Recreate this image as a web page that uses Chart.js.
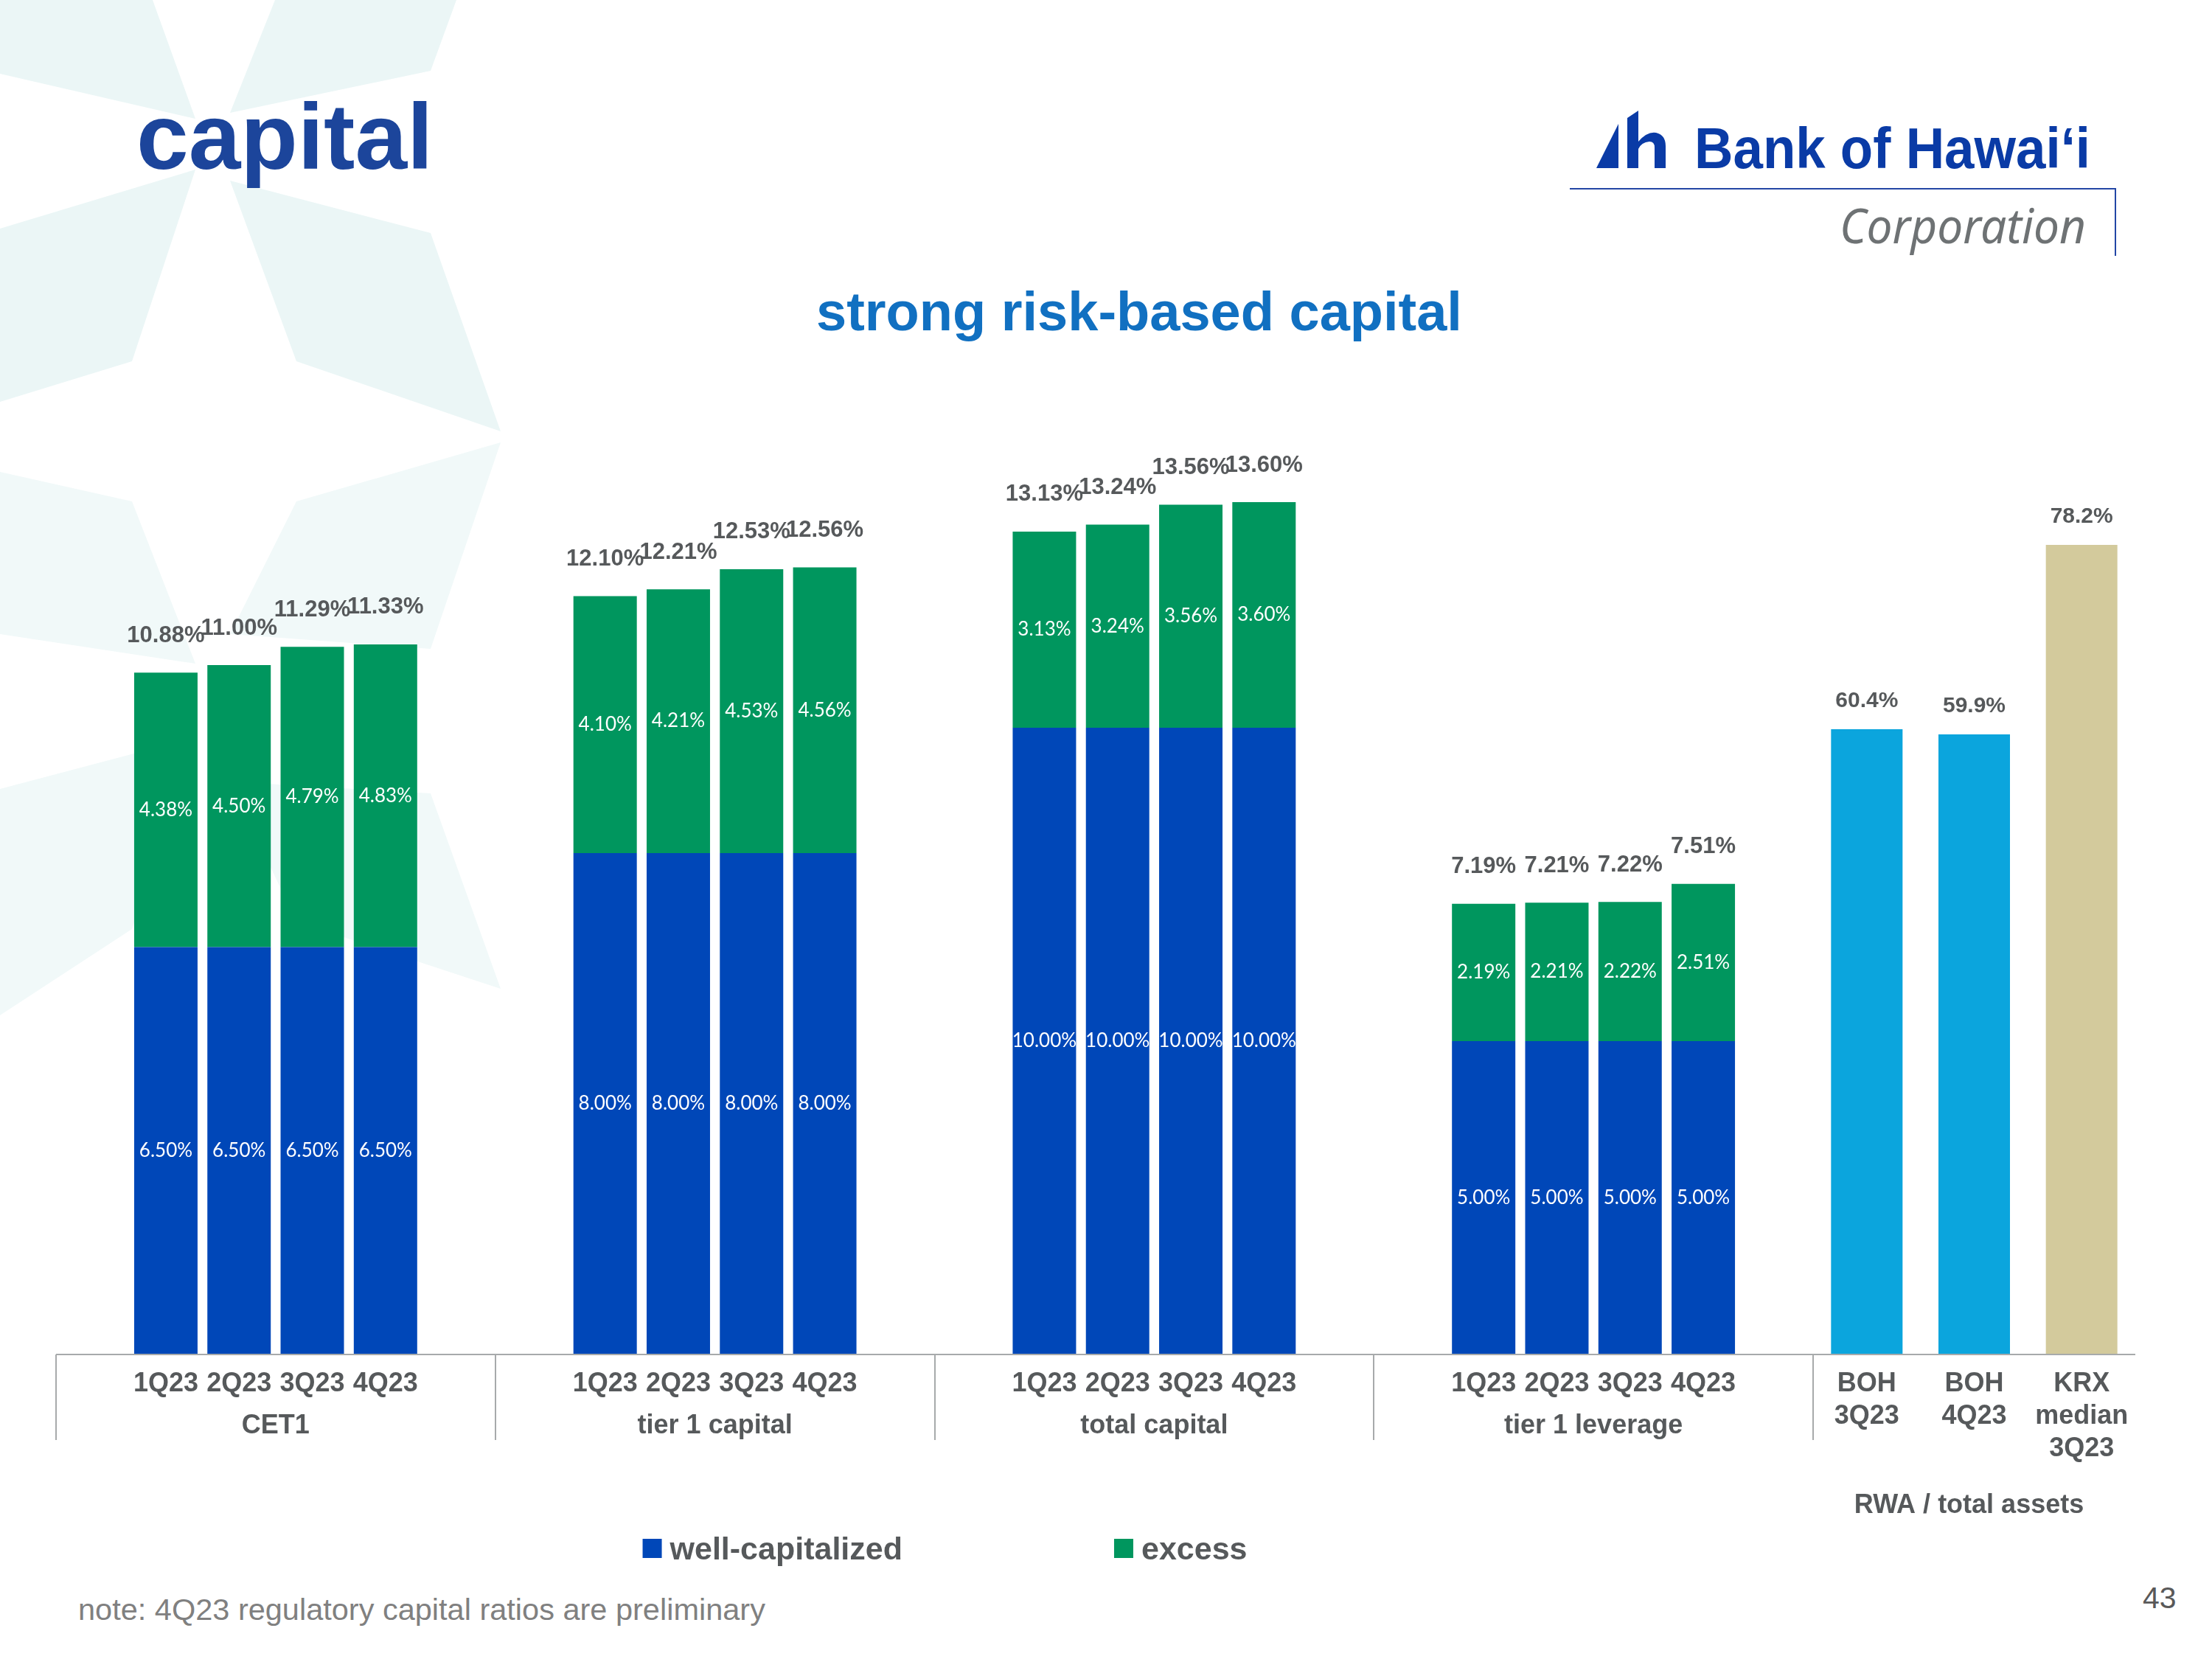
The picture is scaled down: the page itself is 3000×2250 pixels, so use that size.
<!DOCTYPE html>
<html lang="en">
<head>
<meta charset="UTF-8">
<title>capital</title>
<style>
  html, body { margin: 0; padding: 0; background: #fff; }
  body { width: 3000px; height: 2250px; position: relative; overflow: hidden; }
  #bg { position: absolute; left: 0; top: 0; }
  #capChart { position: absolute; left: 56px; top: 477px; }
  #rwaChart { position: absolute; left: 2440px; top: 433px; }
</style>
<script src="https://cdn.jsdelivr.net/npm/chart.js"></script>
</head>
<body>
<svg id="bg" width="3000" height="2250" xmlns="http://www.w3.org/2000/svg">
  <!-- faint star pattern on the left -->
  <g fill="#EBF6F6">
    <polygon points="0,0 207,0 265,161 0,100"/>
    <polygon points="373,0 619,0 584,96 312,153"/>
    <polygon points="312,245 584,316 679,585 402,490"/>
    <polygon points="0,310 265,230 179,490 0,545"/>
  </g>
  <g fill="#F1F9F9">
    <polygon points="0,640 179,680 265,900 0,860"/>
    <polygon points="402,680 679,600 584,880 312,860"/>
    <polygon points="312,1060 584,1076 679,1341 402,1250"/>
    <polygon points="0,1070 265,1000 179,1260 0,1377"/>
  </g>

  <text x="185" y="229" font-family="Liberation Sans, Arial, sans-serif" font-weight="bold" font-size="127" fill="#1C459B">capital</text>
  <text x="1107" y="448" font-family="Liberation Sans, Arial, sans-serif" font-weight="bold" font-size="74" fill="#1170C1">strong risk-based capital</text>

  <!-- logo -->
  <polygon points="2165,228 2195,168 2195,228" fill="#0A3BA6"/>
  <path d="M2207,160 L2222,150 L2222,192 Q2234,178 2246,180 Q2259,183 2259,198 L2259,228 L2244,228 L2244,200 Q2244,192 2237,192 Q2226,193 2222,202 L2222,228 L2207,228 Z" fill="#0A3BA6"/>
  <text x="2298" y="228" font-family="Liberation Sans, Arial, sans-serif" font-weight="bold" font-size="78" fill="#0A3BA6" textLength="537" lengthAdjust="spacingAndGlyphs">Bank of Hawaiʻi</text>
  <line x1="2129" y1="256" x2="2870" y2="256" stroke="#2346A5" stroke-width="2"/>
  <line x1="2869" y1="256" x2="2869" y2="347" stroke="#2346A5" stroke-width="2"/>
  <text x="2495" y="330" font-family="Noto Sans, Open Sans, sans-serif" font-style="italic" font-size="66" fill="#6E7274" textLength="334" lengthAdjust="spacingAndGlyphs">Corporation</text>

  <text x="106" y="2197" font-family="Liberation Sans, Arial, sans-serif" font-size="41.5" fill="#808080">note: 4Q23 regulatory capital ratios are preliminary</text>
  <text x="2906" y="2181" font-family="Liberation Sans, Arial, sans-serif" font-size="41" fill="#595959">43</text>
</svg>

<canvas id="capChart" width="2423" height="1663"></canvas>
<canvas id="rwaChart" width="476" height="1707"></canvas>

<script>
// ---- data ----
const quarters = ['1Q23', '2Q23', '3Q23', '4Q23'];
const groups = ['CET1', 'tier 1 capital', 'total capital', 'tier 1 leverage'];
const wellCapitalized = [
    [6.50, 6.50, 6.50, 6.50],
    [8.00, 8.00, 8.00, 8.00],
    [10.00, 10.00, 10.00, 10.00],
    [5.00, 5.00, 5.00, 5.00]
];
const excess = [
    [4.38, 4.50, 4.79, 4.83],
    [4.10, 4.21, 4.53, 4.56],
    [3.13, 3.24, 3.56, 3.60],
    [2.19, 2.21, 2.22, 2.51]
];
const rwaLabels = [['BOH', '3Q23'], ['BOH', '4Q23'], ['KRX', 'median', '3Q23']];
const rwaValues = [60.4, 59.9, 78.2];
const rwaTitle = 'RWA / total assets';

const grey = '#56595B';
const axisGrey = '#A7AAAB';
const boldFont = '"Liberation Sans", Arial, sans-serif';

// each group gets 6 slots: empty, 4 quarters, empty
function toSlots(rows) {
    const out = [];
    rows.forEach(r => { out.push(null, ...r, null); });
    return out;
}
const slotLabels = [];
groups.forEach(() => { slotLabels.push('', ...quarters, ''); });

// labels, axis, separators and legend for the capital chart
const capLabels = {
    id: 'capLabels',
    afterDatasetsDraw(chart) {
        const ctx = chart.ctx;
        const x = chart.scales.x;
        const area = chart.chartArea;
        const ds = chart.data.datasets;
        ctx.save();
        ctx.textAlign = 'center';

        // values inside the segments
        ctx.font = '26px Lato, "Open Sans", sans-serif';
        ctx.fillStyle = '#ffffff';
        ctx.textBaseline = 'middle';
        ds.forEach((d, di) => {
            chart.getDatasetMeta(di).data.forEach((bar, i) => {
                const v = d.data[i];
                if (v == null) return;
                ctx.fillText(v.toFixed(2) + '%', bar.x, (bar.y + bar.base) / 2);
            });
        });

        // totals above the stacks
        ctx.font = 'bold 31px ' + boldFont;
        ctx.fillStyle = grey;
        chart.getDatasetMeta(1).data.forEach((bar, i) => {
            if (ds[1].data[i] == null) return;
            const total = ds[0].data[i] + ds[1].data[i];
            ctx.fillText(total.toFixed(2) + '%', bar.x, bar.y - 50);
        });

        // axis line and group separators
        const slot = x.getPixelForValue(1) - x.getPixelForValue(0);
        ctx.strokeStyle = axisGrey;
        ctx.lineWidth = 2;
        ctx.beginPath();
        ctx.moveTo(area.left, area.bottom);
        ctx.lineTo(area.right, area.bottom);
        for (let g = 0; g <= groups.length; g++) {
            const px = Math.round(x.getPixelForValue(g * 6) - slot / 2);
            ctx.moveTo(px, area.bottom);
            ctx.lineTo(px, area.bottom + 116);
        }
        ctx.stroke();

        // quarter and group labels
        ctx.textBaseline = 'alphabetic';
        ctx.font = 'bold 36px ' + boldFont;
        ctx.fillStyle = grey;
        slotLabels.forEach((lab, i) => {
            if (lab) ctx.fillText(lab, x.getPixelForValue(i), area.bottom + 50);
        });
        groups.forEach((g, gi) => {
            ctx.fillText(g, x.getPixelForValue(gi * 6 + 2.5), area.bottom + 107);
        });

        // legend
        ctx.font = 'bold 43px ' + boldFont;
        const box = 26, gap = 11, spacer = 287;
        const widths = ds.map(d => box + gap + ctx.measureText(d.label).width);
        const total = widths.reduce((a, b) => a + b, 0) + spacer * (ds.length - 1);
        let lx = (area.left + area.right) / 2 + 14 - total / 2;
        ctx.textAlign = 'left';
        ds.forEach((d, di) => {
            ctx.fillStyle = d.backgroundColor;
            ctx.fillRect(lx, area.bottom + 250, box, box);
            ctx.fillStyle = grey;
            ctx.fillText(d.label, lx + box + gap, area.bottom + 278);
            lx += widths[di] + spacer;
        });
        ctx.restore();
    }
};

// labels and axis for the RWA chart
const rwaDecor = {
    id: 'rwaDecor',
    afterDatasetsDraw(chart) {
        const ctx = chart.ctx;
        const x = chart.scales.x;
        const area = chart.chartArea;
        const d = chart.data.datasets[0];
        ctx.save();
        ctx.textAlign = 'center';
        ctx.fillStyle = grey;
        ctx.textBaseline = 'middle';
        ctx.font = 'bold 30px ' + boldFont;
        chart.getDatasetMeta(0).data.forEach((bar, i) => {
            ctx.fillText(d.data[i].toFixed(1) + '%', bar.x, bar.y - 38);
        });

        ctx.strokeStyle = axisGrey;
        ctx.lineWidth = 2;
        ctx.beginPath();
        ctx.moveTo(area.left, area.bottom);
        ctx.lineTo(area.right, area.bottom);
        ctx.stroke();

        ctx.textBaseline = 'alphabetic';
        ctx.font = 'bold 36px ' + boldFont;
        chart.data.labels.forEach((lines, i) => {
            lines.forEach((t, li) => {
                ctx.fillText(t, x.getPixelForValue(i), area.bottom + 50 + li * 44);
            });
        });
        ctx.fillText(rwaTitle, (area.left + area.right) / 2 - 7, area.bottom + 215);
        ctx.restore();
    }
};

Chart.defaults.animation = false;

new Chart(document.getElementById('capChart').getContext('2d'), {
    type: 'bar',
    data: {
        labels: slotLabels,
        datasets: [{
            label: 'well-capitalized',
            data: toSlots(wellCapitalized),
            backgroundColor: '#0047B8'
        }, {
            label: 'excess',
            data: toSlots(excess),
            backgroundColor: '#00965E'
        }]
    },
    options: {
        responsive: false,
        devicePixelRatio: 1,
        layout: { padding: { left: 20, right: 20, top: 0, bottom: 303 } },
        datasets: { bar: { barPercentage: 0.866, categoryPercentage: 1.0 } },
        plugins: { legend: { display: false }, tooltip: { enabled: false } },
        scales: {
            x: { stacked: true, display: false },
            y: { stacked: true, display: false, min: 0, max: 16 }
        }
    },
    plugins: [capLabels]
});

new Chart(document.getElementById('rwaChart').getContext('2d'), {
    type: 'bar',
    data: {
        labels: rwaLabels,
        datasets: [{
            label: rwaTitle,
            data: rwaValues,
            backgroundColor: ['#0BA5DD', '#0BA5DD', '#D3CA9C']
        }]
    },
    options: {
        responsive: false,
        devicePixelRatio: 1,
        layout: { padding: { left: 19, right: 20, top: 0, bottom: 303 } },
        datasets: { bar: { barPercentage: 0.666, categoryPercentage: 1.0 } },
        plugins: { legend: { display: false }, tooltip: { enabled: false } },
        scales: {
            x: { display: false },
            y: { display: false, min: 0, max: 100 }
        }
    },
    plugins: [rwaDecor]
});
</script>
</body>
</html>
